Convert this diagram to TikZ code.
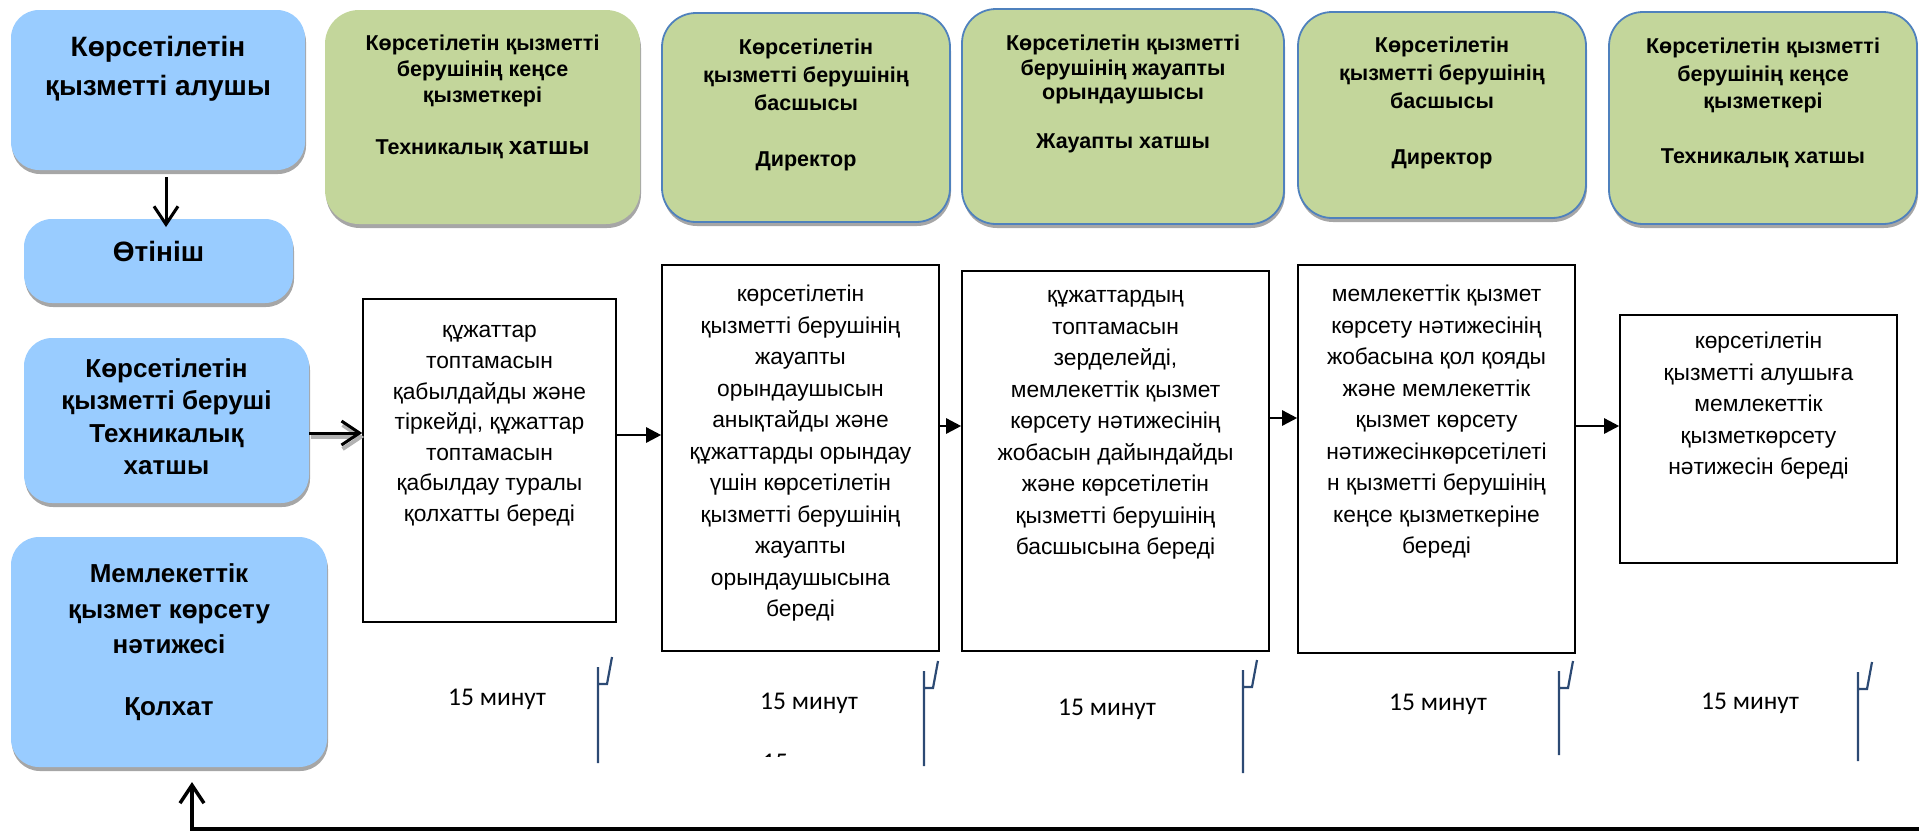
\documentclass[tikz,border=0pt]{standalone}
\usepackage{fontspec}
\setmainfont{Liberation Sans}
\newfontfamily\calibrifont{Carlito}
\usetikzlibrary{arrows.meta}
\usetikzlibrary{calc}
\usetikzlibrary{positioning}
\usetikzlibrary{shadows}
\definecolor{roleblue}{RGB}{153,204,255}
\definecolor{rolegreen}{RGB}{195,214,155}
\definecolor{rolerim}{RGB}{79,129,189}
\definecolor{tickblue}{RGB}{44,74,116}
\newcommand{\stagemark}[3]{
  \draw[stagetick] (#1,#3) -- (#1,#2) (#1,#2+17) -- (#1+9,#2+17) -- (#1+14,#2-10);
}
\begin{document}
\begin{tikzpicture}[x=1pt, y=-1pt,
    every node/.style={inner sep=0pt, align=center},
    boxsize/.style 2 args={minimum width=#1pt, minimum height=#2pt},
    client/.style={rectangle, rounded corners=28pt, fill=roleblue,
      drop shadow={shadow xshift=1pt, shadow yshift=-4pt, fill=black!35, opacity=1}},
    actor/.style={rectangle, rounded corners=34pt, fill=rolegreen, draw=rolerim, line width=1.8pt,
      drop shadow={shadow xshift=1pt, shadow yshift=-4pt, fill=black!35, opacity=1}},
    action/.style={rectangle, draw=black, line width=1.6pt, fill=white},
    clienttext/.style 2 args={font=\fontsize{#1}{#2}\selectfont\bfseries, execute at begin node=\strut},
    actortext/.style={font=\fontsize{21.5}{#1}\selectfont\bfseries, execute at begin node=\strut},
    actiontext/.style={font=\fontsize{22.8}{#1}\selectfont, execute at begin node=\strut},
    minutes/.style={font=\calibrifont\fontsize{25.5}{30}\selectfont},
    flow/.style={-{Triangle[length=15pt,width=15pt]}, line width=2.5pt},
    barb/.style={-{Straight Barb[length=18pt,width=24pt]}, line width=3pt},
    barbshadow/.style={barb, draw=black!30, line width=4pt},
    stagetick/.style={draw=tickblue, line width=2.2pt},
  ]
  \useasboundingbox (0,0) rectangle (1919,831);

  \node[client, boxsize={294}{160}] (recv) at (158,90) {};
  \node[client, boxsize={269}{84}] (appl) at (158.5,261) {};
  \node[client, boxsize={285}{165}] (giver) at (166.5,420.5) {};
  \node[client, boxsize={316}{230}] (result) at (169,652) {};
  \node[clienttext={28}{39}, below=26pt of recv.north] (recvt) {Көрсетілетін\\қызметті алушы};
  \node[clienttext={28}{39}, below=15.5pt of appl.north] (applt) {Өтініш};
  \node[clienttext={26}{32.5}, below=20.3pt of giver.north] (givert)
    {Көрсетілетін\\қызметті беруші\\Техникалық\\хатшы};
  \node[clienttext={26}{35.5}, below=27pt of result.north] (resultt)
    {Мемлекеттік\\қызмет көрсету\\нәтижесі\\[26.5pt]Қолхат};

  \node[actor, draw=none, boxsize={315}{214}] (g1) at (482.5,117) {};
  \node[actor, boxsize={288}{209}] (g2) at (806,117.5) {};
  \node[actor, boxsize={322}{215}] (g3) at (1123,116.5) {};
  \node[actor, boxsize={288}{206}] (g4) at (1442,115) {};
  \node[actor, boxsize={308}{212}] (g5) at (1763,118) {};
  \node[actortext=26, below=25.8pt of g1.north] (g1t)
    {Көрсетілетін қызметті\\берушінің кеңсе\\қызметкері\\[26pt]Техникалық {\fontsize{24.5}{26}\selectfont хатшы}};
  \node[actortext=28, below=26.4pt of g2.north] (g2t)
    {Көрсетілетін\\қызметті берушінің\\басшысы\\[28pt]Директор};
  \node[actortext=24.5, below=26.8pt of g3.north] (g3t)
    {Көрсетілетін қызметті\\берушінің жауапты\\орындаушысы\\[24.5pt]Жауапты хатшы};
  \node[actortext=28, below=25.9pt of g4.north] (g4t)
    {Көрсетілетін\\қызметті берушінің\\басшысы\\[28pt]Директор};
  \node[actortext=27.5, below=26.7pt of g5.north] (g5t)
    {Көрсетілетін қызметті\\берушінің кеңсе\\қызметкері\\[27.5pt]Техникалық хатшы};

  \node[action, boxsize={253}{323}] (w1) at (489.5,460.5) {};
  \node[action, boxsize={277}{386}] (w2) at (800.5,458) {};
  \node[action, boxsize={307}{380}] (w3) at (1115.5,461) {};
  \node[action, boxsize={277}{388}] (w4) at (1436.5,459) {};
  \node[action, boxsize={277}{248}] (w5) at (1758.5,439) {};
  \node[actiontext=30.6, below=27.2pt of w1.north] (w1t)
    {құжаттар\\топтамасын\\қабылдайды және\\тіркейді, құжаттар\\топтамасын\\қабылдау туралы\\қолхатты береді};
  \node[actiontext=31.5, below=21pt of w2.north] (w2t)
    {көрсетілетін\\қызметті берушінің\\жауапты\\орындаушысын\\анықтайды және\\құжаттарды орындау\\үшін көрсетілетін\\қызметті берушінің\\жауапты\\орындаушысына\\береді};
  \node[actiontext=31.5, below=20pt of w3.north] (w3t)
    {құжаттардың\\топтамасын\\зерделейді,\\мемлекеттік қызмет\\көрсету нәтижесінің\\жобасын дайындайды\\және көрсетілетін\\қызметті берушінің\\басшысына береді};
  \node[actiontext=31.5, below=21pt of w4.north] (w4t)
    {мемлекеттік қызмет\\көрсету нәтижесінің\\жобасына қол қояды\\және мемлекеттік\\қызмет көрсету\\нәтижесінкөрсетілеті\\н қызметті берушінің\\кеңсе қызметкеріне\\береді};
  \node[actiontext=31.5, below=18pt of w5.north] (w5t)
    {көрсетілетін\\қызметті алушыға\\мемлекеттік\\қызметкөрсету\\нәтижесін береді};

  \node[minutes] (t1) at (497,699.5) {15 минут};
  \node[minutes] (t2) at (809,703) {15 минут};
  \node[minutes] (t3) at (1107,709.5) {15 минут};
  \node[minutes] (t4) at (1438,704.5) {15 минут};
  \node[minutes] (t5) at (1750,703) {15 минут};
  \begin{scope}
    \clip (740,740) rectangle (800,756.5);
    \node[minutes, anchor=north west] (t2x) at (762,754) {15};
  \end{scope}

  \stagemark{598}{667}{763}
  \stagemark{924}{671}{766}
  \stagemark{1243}{670}{773}
  \stagemark{1559}{671}{755}
  \stagemark{1858}{672}{761}

  \coordinate (dtip) at (166,227);
  \coordinate (lv0) at (0,433);
  \coordinate (lv1) at (0,435);
  \coordinate (lv2) at (0,426);
  \coordinate (lv3) at (0,418);
  \coordinate (lv4) at (0,426);
  \coordinate (retstart) at (1919,829);
  \coordinate (rettip) at (192,782);

  \draw[barb, shorten <=7pt] (recv.south -| dtip) -- (dtip);
  \draw[barbshadow, transform canvas={shift={(2pt,-4pt)}}] (giver.east |- lv0) -- (w1.west |- lv0);
  \draw[barb] (giver.east |- lv0) -- (w1.west |- lv0);
  \draw[flow] (w1.east |- lv1) -- (w2.west |- lv1);
  \draw[flow] (w2.east |- lv2) -- (w3.west |- lv2);
  \draw[flow] (w3.east |- lv3) -- (w4.west |- lv3);
  \draw[flow] (w4.east |- lv4) -- (w5.west |- lv4);
  \draw[barb, line width=3.5pt] (retstart) -| (rettip);
\end{tikzpicture}
\end{document}
